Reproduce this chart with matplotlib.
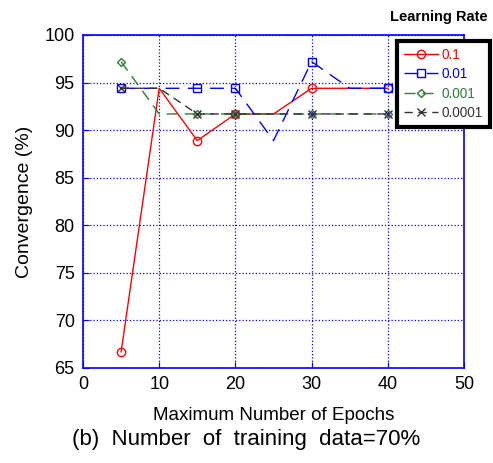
import numpy as np
import matplotlib.pyplot as plt

plt.rcParams['font.family'] = ['Liberation Sans', 'DejaVu Sans']

epochs = [5, 10, 15, 20, 25, 30, 35, 40]
lr_01 = [66.7, 94.4, 88.9, 91.7, 91.7, 94.4, 94.4, 94.4]
lr_001 = [94.4, 94.4, 94.4, 94.4, 88.9, 97.2, 94.4, 94.4]
lr_0001 = [97.2, 91.7, 91.7, 91.7, 91.7, 91.7, 91.7, 91.7]
lr_00001 = [94.4, 94.4, 91.7, 91.7, 91.7, 91.7, 91.7, 91.7]
labels = ['0.1', '0.01', '0.001', '0.0001']

marks = [0, 2, 3, 5, 7]

fig = plt.figure(figsize=(4.93, 4.63), dpi=100)
ax = fig.add_axes([83/493, 1-368/463, (464-83)/493, (368-35)/463])

ax.plot(epochs, lr_01, color='red', lw=1, marker='o', ms=6, mfc='none', markevery=marks, label=labels[0])
ax.plot(epochs, lr_001, color='blue', lw=1, ls=(0, (10, 6)), marker='s', ms=6, mfc='none', markevery=marks, label=labels[1])
ax.plot(epochs, lr_0001, color='#2e7d32', lw=1, ls=(0, (8, 5)), marker='D', ms=4, mfc='none', markevery=marks, label=labels[2])
ax.plot(epochs, lr_00001, color='#333333', lw=1, ls=(0, (6, 4)), marker='x', ms=6, markevery=marks, label=labels[3])

ax.set_xlim(0, 50)
ax.set_ylim(65, 100)
ax.set_xticks(range(0, 51, 10))
ax.set_yticks(range(65, 101, 5))
ax.grid(color='blue', ls=':', lw=0.9)
for s in ax.spines.values():
    s.set_color('blue')
    s.set_linewidth(1.2)
ax.tick_params(direction='in', color='blue', length=4, labelsize=13, pad=6)

ax.set_xlabel('Maximum Number of Epochs', fontsize=13.5, labelpad=10)
ax.set_ylabel('Convergence (%)', fontsize=14, labelpad=8)
fig.text(0.5, 1-440/463, '(b)  Number  of  training  data=70%', fontsize=16, ha='center', va='center')
fig.text(1-5/493, 1-17/463, 'Learning Rate', fontsize=10.5, fontweight='bold', ha='right', va='center')

leg = ax.legend(loc='upper left', bbox_to_anchor=(397/493, 1-41/463), bbox_transform=fig.transFigure,
                fancybox=False, framealpha=1, edgecolor='black', fontsize=9.8,
                handlelength=2.5, handletextpad=0.3, borderpad=0.5, borderaxespad=0,
                labelspacing=0.4)
leg.get_frame().set_linewidth(3)
for t, l in zip(leg.get_texts(), leg.get_lines()):
    t.set_color(l.get_color())

fig.savefig('out.png', dpi=100)
